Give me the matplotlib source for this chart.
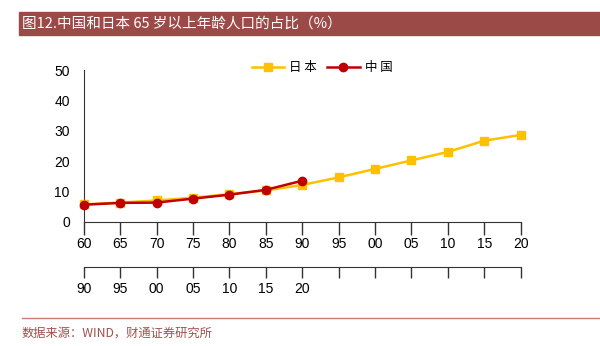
import numpy as np
import matplotlib.pyplot as plt
from matplotlib.patches import Rectangle
from matplotlib.lines import Line2D

plt.rcParams['font.family'] = ['Liberation Sans', 'Noto Sans CJK SC', 'DejaVu Sans']

# data
top_labels = ['60', '65', '70', '75', '80', '85', '90', '95', '00', '05', '10', '15', '20']
bottom_labels = ['90', '95', '00', '05', '10', '15', '20', '', '', '', '', '', '']
japan = [5.7, 6.3, 7.0, 7.9, 9.1, 10.3, 12.1, 14.6, 17.4, 20.2, 23.0, 26.7, 28.6]
china = [5.6, 6.2, 6.3, 7.6, 8.9, 10.5, 13.5]

title = '图12.中国和日本 65 岁以上年龄人口的占比（%）'
source = '数据来源：WIND，财通证券研究所'

fig = plt.figure(figsize=(6, 3.46), dpi=100)
W, H = 600, 346

# title bar
fig.patches.append(Rectangle((19 / W, 1 - 35 / H), 1 - 19 / W, 23 / H,
                             transform=fig.transFigure, color='#9C4A47', zorder=0))
fig.text(22 / W, 1 - 23.5 / H, title, color='white', fontsize=10.5, va='center',
         family=['Noto Sans CJK SC', 'DejaVu Sans'])

# footer
fig.lines.append(Line2D([22 / W, 1], [1 - 317.7 / H] * 2, transform=fig.transFigure,
                        color='#C97A76', lw=1))
fig.text(22 / W, 1 - 333 / H, source, color='#A0504C', fontsize=8.8, va='center',
         family=['Noto Sans CJK SC', 'DejaVu Sans'])

left, right = 83.7 / W, 520.7 / W
ax = fig.add_axes([left, 1 - 221.7 / H, right - left, (221.7 - 70) / H])
x = np.arange(len(top_labels))
ax.plot(x, japan, color='#FFC000', lw=1.8, marker='s', ms=6, clip_on=False,
        zorder=3, label='日 本')
ax.plot(np.arange(len(china)), china, color='#C00000', lw=1.8, marker='o', ms=6,
        clip_on=False, zorder=4, label='中 国')
ax.set_xlim(0, len(top_labels) - 1)
ax.set_ylim(0, 50)
ax.set_yticks([0, 10, 20, 30, 40, 50])
ax.set_xticks(x)
ax.set_xticklabels(top_labels)
ax.tick_params(axis='y', length=0, pad=10, labelsize=10)
ax.tick_params(axis='x', direction='out', length=9.6, width=1, pad=1.5, labelsize=10,
               color='#333333')
for s in ['top', 'right']:
    ax.spines[s].set_visible(False)
for s in ['left', 'bottom']:
    ax.spines[s].set_color('#333333')
ax.patch.set_alpha(0)

leg = fig.legend(loc='center', bbox_to_anchor=(0.537, 1 - 68 / H), ncol=2,
                 frameon=False, handlelength=2.6, handletextpad=0.4,
                 columnspacing=0.8, prop={'family': ['Noto Sans CJK SC', 'DejaVu Sans'], 'size': 9})

# second axis for China years
ax2 = fig.add_axes([left, 1 - 267 / H, right - left, 0.001])
ax2.set_xlim(0, len(top_labels) - 1)
ax2.set_xticks(x)
ax2.set_xticklabels(bottom_labels)
ax2.set_yticks([])
ax2.tick_params(axis='x', direction='out', length=8, width=1, pad=3, labelsize=10,
                color='#333333')
for s in ['top', 'right', 'left']:
    ax2.spines[s].set_visible(False)
ax2.spines['bottom'].set_color('#333333')
ax2.patch.set_alpha(0)

fig.savefig('out.png', dpi=100)
